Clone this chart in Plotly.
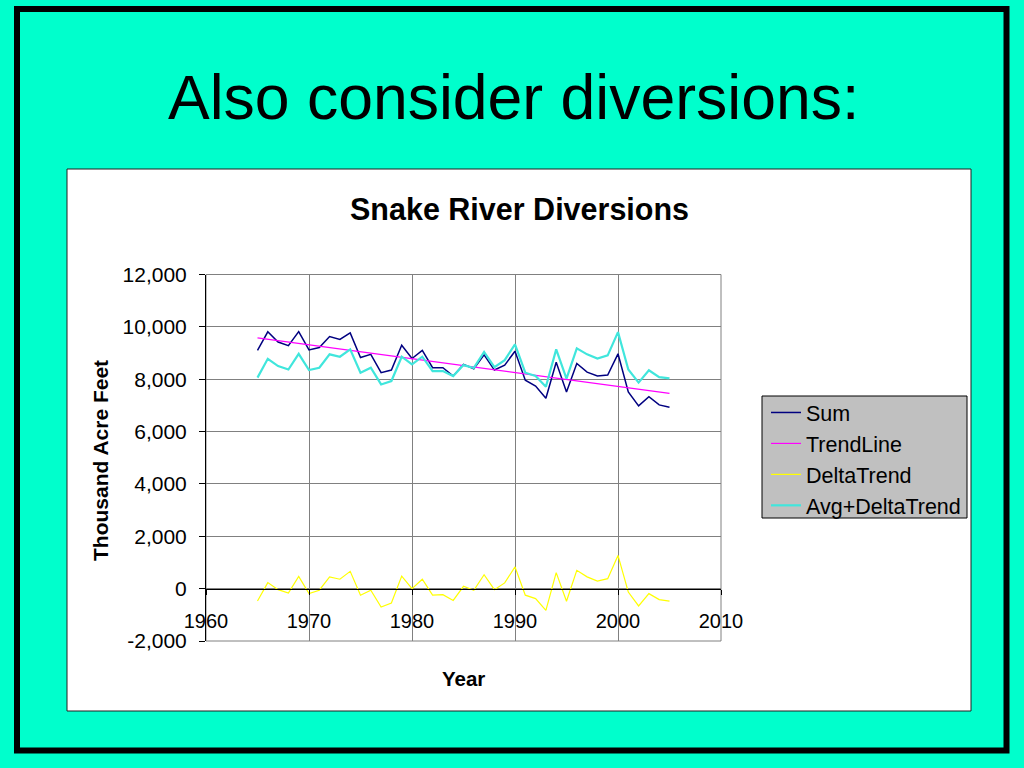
import plotly.graph_objects as go

W, H = 1024, 768

# ---- data ----
years = [1965, 1966, 1967, 1968, 1969, 1970, 1971, 1972, 1973, 1974,
         1975, 1976, 1977, 1978, 1979, 1980, 1981, 1982, 1983, 1984,
         1985, 1986, 1987, 1988, 1989, 1990, 1991, 1992, 1993, 1994,
         1995, 1996, 1997, 1998, 1999, 2000, 2001, 2002, 2003, 2004, 2005]

sum_vals = [9100, 9810, 9420, 9280, 9820, 9120, 9210, 9630, 9520, 9770,
            8830, 8950, 8250, 8350, 9300, 8790, 9100, 8440, 8440, 8120,
            8570, 8400, 8930, 8350, 8540, 9070, 7960, 7740, 7270, 8650,
            7510, 8600, 8270, 8120, 8160, 8970, 7510, 6980, 7330, 7020, 6930]

trend_vals = [9580, 9527, 9474, 9421, 9368, 9315, 9262, 9209, 9156, 9103,
              9050, 8997, 8944, 8891, 8838, 8785, 8732, 8679, 8626, 8573,
              8520, 8467, 8414, 8361, 8308, 8255, 8202, 8149, 8096, 8043,
              7990, 7937, 7884, 7831, 7778, 7725, 7672, 7619, 7566, 7513, 7460]

delta_vals = [-470, 230, -40, -170, 470, -190, -60, 450, 360, 660,
              -250, -60, -700, -550, 480, 0, 360, -250, -230, -450,
              90, -60, 530, -40, 220, 830, -250, -380, -830, 610,
              -480, 700, 450, 290, 380, 1270, -130, -660, -190, -420, -480]

avg_delta_vals = [8060, 8780, 8500, 8370, 8970, 8350, 8440, 8950, 8860, 9140,
                  8250, 8440, 7800, 7930, 8860, 8570, 8860, 8310, 8310, 8120,
                  8540, 8430, 9040, 8460, 8730, 9330, 8250, 8120, 7710, 9140,
                  8020, 9180, 8950, 8790, 8910, 9800, 8370, 7870, 8340, 8080, 8030]

y_tick_vals = [-2000, 0, 2000, 4000, 6000, 8000, 10000, 12000]
y_tick_text = ["-2,000", "0", "2,000", "4,000", "6,000", "8,000", "10,000", "12,000"]
x_tick_vals = [1960, 1970, 1980, 1990, 2000, 2010]
x_tick_text = ["1960", "1970", "1980", "1990", "2000", "2010"]

# ---- layout helpers (pixel -> paper) ----
def px(x):
    return x / W

def py(y):
    return 1 - y / H

FONT = "Liberation Sans, Arial, Helvetica, sans-serif"

plot_l, plot_r, plot_t, plot_b = 206, 721, 274.5, 641
y_min, y_max = -2000, 12000
zero_pix = plot_b - (0 - y_min) / (y_max - y_min) * (plot_b - plot_t)

fig = go.Figure()
fig.add_trace(go.Scatter(x=years, y=sum_vals, name="Sum", mode="lines",
                         line=dict(color="#000080", width=1.5)))
fig.add_trace(go.Scatter(x=years, y=trend_vals, name="TrendLine", mode="lines",
                         line=dict(color="#FF00FF", width=1.2)))
fig.add_trace(go.Scatter(x=years, y=delta_vals, name="DeltaTrend", mode="lines",
                         line=dict(color="#FFFF00", width=1.2)))
fig.add_trace(go.Scatter(x=years, y=avg_delta_vals, name="Avg+DeltaTrend", mode="lines",
                         line=dict(color="#40E6DC", width=2.2)))

shapes = [
    # white chart box
    dict(type="rect", xref="paper", yref="paper", layer="below",
         x0=px(67), x1=px(971), y0=py(711), y1=py(169),
         fillcolor="white", line=dict(color="#202020", width=1)),
    # legend box
    dict(type="rect", xref="paper", yref="paper", layer="below",
         x0=px(762), x1=px(967), y0=py(518), y1=py(396),
         fillcolor="#C0C0C0", line=dict(color="black", width=1)),
    # outer black frame
    dict(type="rect", xref="paper", yref="paper", layer="above",
         x0=px(17), x1=px(1006.5), y0=py(750.5), y1=py(9),
         fillcolor="rgba(0,0,0,0)", line=dict(color="black", width=6)),
    # plot area border (gray)
    dict(type="rect", xref="paper", yref="paper", layer="below",
         x0=px(plot_l), x1=px(plot_r), y0=py(plot_b), y1=py(plot_t),
         fillcolor="rgba(0,0,0,0)", line=dict(color="#808080", width=1)),
]

annotations = [
    dict(text="Also consider diversions:", xref="paper", yref="paper",
         x=px(513), y=py(97), xanchor="center", yanchor="middle", showarrow=False,
         font=dict(family=FONT, size=62.5, color="black")),
    dict(text="<b>Snake River Diversions</b>", xref="paper", yref="paper",
         x=px(519), y=py(209), xanchor="center", yanchor="middle", showarrow=False,
         font=dict(family=FONT, size=30.5, color="black")),
    dict(text="<b>Year</b>", xref="paper", yref="paper",
         x=px(463), y=py(678), xanchor="center", yanchor="middle", showarrow=False,
         font=dict(family=FONT, size=20.5, color="black")),
    dict(text="<b>Thousand Acre Feet</b>", xref="paper", yref="paper",
         x=px(100), y=py(461), xanchor="center", yanchor="middle", showarrow=False,
         textangle=-90, font=dict(family=FONT, size=21, color="black")),
]

fig.update_layout(
    width=W, height=H,
    margin=dict(l=0, r=0, t=0, b=0, pad=0, autoexpand=False),
    paper_bgcolor="#00FFCC",
    plot_bgcolor="#C0C0C0",
    font=dict(family=FONT, size=20, color="black"),
    showlegend=True,
    legend=dict(x=px(766), y=py(392), xanchor="left", yanchor="top",
                bgcolor="rgba(0,0,0,0)", borderwidth=0,
                font=dict(family=FONT, size=21.5, color="black"),
                itemwidth=30, tracegroupgap=0),
    xaxis=dict(domain=[px(plot_l), px(plot_r)], range=[1960, 2010],
               tickvals=x_tick_vals, ticktext=x_tick_text,
               showgrid=True, gridcolor="#808080", gridwidth=1,
               zeroline=False, showline=True, linecolor="black", linewidth=1,
               ticks="outside", ticklen=5, tickcolor="black",
               ticklabelstandoff=9, automargin=False,
               anchor="free", position=py(zero_pix),
               tickfont=dict(family=FONT, size=20, color="black")),
    yaxis=dict(domain=[py(plot_b), py(plot_t)], range=[y_min, y_max],
               tickvals=y_tick_vals, ticktext=y_tick_text,
               showgrid=True, gridcolor="#808080", gridwidth=1,
               zeroline=False, showline=True, linecolor="black", linewidth=1,
               ticks="outside", ticklen=6, tickcolor="black",
               ticklabelstandoff=8, automargin=False,
               tickfont=dict(family=FONT, size=21, color="black")),
    shapes=shapes,
    annotations=annotations,
)

fig.write_html("out.html", config={"displayModeBar": False},
               post_script="document.body.style.margin='0';document.body.style.overflow='hidden';")
